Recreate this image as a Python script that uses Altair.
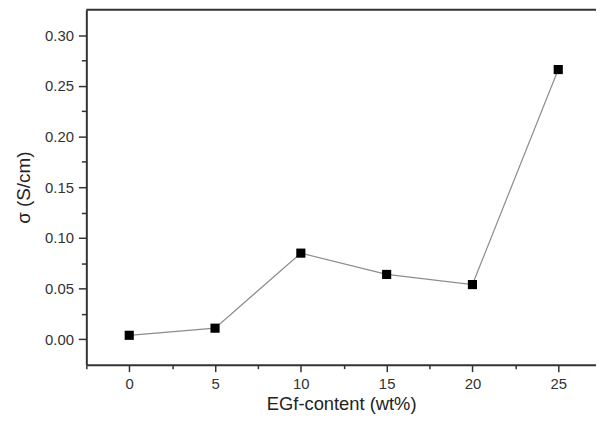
import altair as alt
import pandas as pd

egf = [0, 5, 10, 15, 20, 25]
sigma = [0.004, 0.011, 0.085, 0.064, 0.054, 0.266]

x_major = [0, 5, 10, 15, 20, 25]
x_minor = [-2.5, 2.5, 7.5, 12.5, 17.5, 22.5]
y_major = [0.00, 0.05, 0.10, 0.15, 0.20, 0.25, 0.30]
y_minor = [0.025, 0.075, 0.125, 0.175, 0.225, 0.275]

df = pd.DataFrame({"x": egf, "y": sigma})

W, H = 514, 358
FONT = "Liberation Sans"
AX = "#333333"

xs = alt.Scale(domain=[-2.5, 27.2], nice=False, zero=False)
ys = alt.Scale(domain=[-0.025, 0.325], nice=False, zero=False)

base = alt.Chart(df)

line = base.mark_line(color="#8c8c8c", strokeWidth=1.2).encode(
    x=alt.X("x:Q", scale=xs, axis=alt.Axis(
        orient="bottom", values=x_major, title="EGf-content (wt%)", format="d",
        grid=False, domain=True, domainColor=AX, domainWidth=2,
        tickColor=AX, tickWidth=1.5, tickSize=7, labelPadding=5,
        labelFont=FONT, labelFontSize=15, labelColor="#333333",
        titleFont=FONT, titleFontSize=18.5, titleFontWeight="normal", titleColor="#222222",
        titlePadding=3)),
    y=alt.Y("y:Q", scale=ys, axis=alt.Axis(
        orient="left", values=y_major, title="σ (S/cm)", format=".2f",
        grid=False, domain=True, domainColor=AX, domainWidth=2,
        tickColor=AX, tickWidth=1.5, tickSize=8, labelPadding=5,
        labelFont=FONT, labelFontSize=15, labelColor="#333333",
        titleFont=FONT, titleFontSize=19, titleFontWeight="normal", titleColor="#222222",
        titlePadding=11)),
)

pts = base.mark_point(shape="square", filled=True, color="black", size=85, opacity=1).encode(
    x=alt.X("x:Q", scale=xs, axis=alt.Axis(
        orient="bottom", values=x_minor, labels=False, title=None, grid=False,
        domain=False, tickColor=AX, tickWidth=1.5, tickSize=4)),
    y=alt.Y("y:Q", scale=ys, axis=alt.Axis(
        orient="left", values=y_minor, labels=False, title=None, grid=False,
        domain=False, tickColor=AX, tickWidth=1.5, tickSize=5)),
)

top = alt.Chart(pd.DataFrame({"a": [0]})).mark_rule(color=AX, strokeWidth=2).encode(
    x=alt.value(0), x2=alt.value(W), y=alt.value(0)
)

chart = alt.layer(line, pts, top).resolve_axis(x="independent", y="independent").properties(
    width=W, height=H,
    autosize=alt.AutoSizeParams(type="none"),
    padding={"left": 79, "top": 0, "right": 0, "bottom": 50},
).configure_view(stroke=None)

chart.save("out.html", embed_options={"renderer": "svg", "actions": False})
